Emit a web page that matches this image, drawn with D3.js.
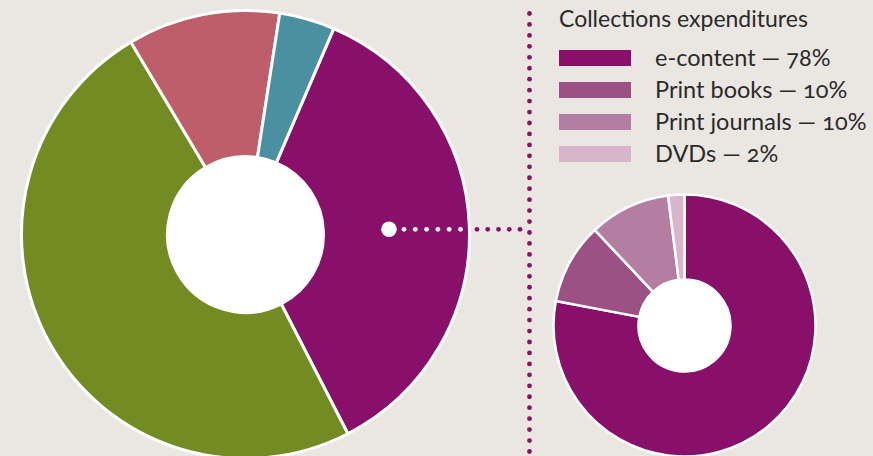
<!DOCTYPE html>
<html>
<head>
<meta charset="utf-8">
<script src="https://cdn.jsdelivr.net/npm/d3@7"></script>
<style>
  html, body { margin: 0; padding: 0; background: #eae7e3; }
  svg { display: block; }
  text { font-family: Lato, "Open Sans", sans-serif; fill: #2b2a29; font-variant-numeric: oldstyle-nums; }
</style>
</head>
<body>
<svg id="chart"></svg>
<script>
// overall budget split (clockwise, starting just right of 12 o'clock)
const budgetCats = ["Collections", "Staff", "Operations", "Other"];
const budgetVals = [36, 49, 11, 4];
const budgetColors = ["#88106a", "#728b22", "#be5e6a", "#4b90a0"];

// collections expenditures breakdown
const collCats = ["e-content", "Print books", "Print journals", "DVDs"];
const collVals = [78, 10, 10, 2];
const collColors = ["#88106a", "#9c5185", "#b47ea3", "#d8b5cb"];

const legendTitle = "Collections expenditures";

const W = 873, H = 456;
const svg = d3.select("#chart").attr("width", W).attr("height", H);

const bigC = {x: 245.5, y: 234.5};
const smallC = {x: 684.5, y: 325.5};

function donut(center, vals, colors, rOuter, rInner, start, sw) {
    const pie = d3.pie().sort(null).value(d => d)
        .startAngle(start).endAngle(start + 2 * Math.PI);
    const arc = d3.arc().innerRadius(rInner).outerRadius(rOuter);
    const g = svg.append("g").attr("transform", `translate(${center.x},${center.y})`);
    g.selectAll("path")
        .data(pie(vals))
        .join("path")
        .attr("d", arc)
        .attr("fill", (d, i) => colors[i])
        .attr("stroke", "#fff")
        .attr("stroke-width", sw)
        .attr("stroke-linejoin", "miter");
    g.append("circle").attr("r", rInner).attr("fill", "#fff");
    return g;
}

donut(bigC, budgetVals, budgetColors, 224, 78, 23.2 * Math.PI / 180, 3);

// vertical dotted divider
const vx = 529.5;
svg.selectAll(".vdot")
    .data(d3.range(13.5, H + 6, 10.95))
    .join("circle")
    .attr("class", "vdot")
    .attr("cx", vx).attr("cy", d => d).attr("r", 2.4)
    .attr("fill", "#88106a");

// horizontal connector from the collections slice
const hy = 229.3;
svg.selectAll(".hdotw")
    .data(d3.range(0, 6))
    .join("circle")
    .attr("cx", i => 404 + i * 11.3).attr("cy", hy).attr("r", 2.4)
    .attr("fill", "#fff");
svg.selectAll(".hdotp")
    .data(d3.range(0, 5))
    .join("circle")
    .attr("cx", i => 477 + i * 10.75).attr("cy", hy).attr("r", 2.4)
    .attr("fill", "#88106a");
svg.append("circle").attr("cx", 389).attr("cy", hy).attr("r", 7.8).attr("fill", "#fff");

donut(smallC, collVals, collColors, 131, 46, 0, 2.5);

// legend
svg.append("text")
    .attr("x", 559).attr("y", 27)
    .style("font-size", "23px")
    .text(legendTitle);

const leg = svg.append("g");
const rows = leg.selectAll("g")
    .data(collCats)
    .join("g")
    .attr("transform", (d, i) => `translate(559,${50 + i * 32})`);
rows.append("rect")
    .attr("width", 72).attr("height", 16)
    .attr("fill", (d, i) => collColors[i]);
rows.append("text")
    .attr("x", 96).attr("y", 15.7)
    .style("font-size", "23.5px")
    .text((d, i) => `${d} \u2014 ${collVals[i]}%`);
</script>
</body>
</html>
